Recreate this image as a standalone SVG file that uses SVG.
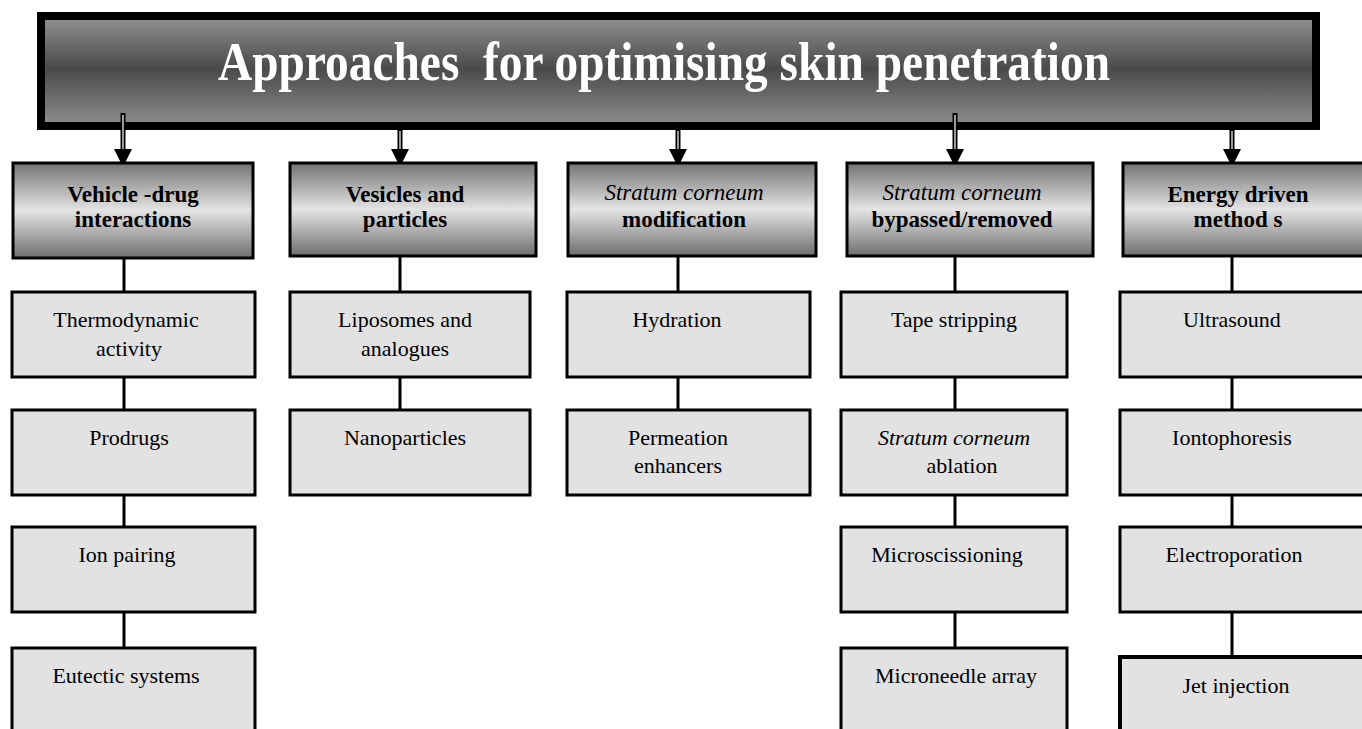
<svg xmlns="http://www.w3.org/2000/svg" width="1362" height="729" viewBox="0 0 1362 729">
<defs>
<linearGradient id="gTitle" x1="0" y1="0" x2="0" y2="1">
<stop offset="0" stop-color="#929292"/>
<stop offset="0.48" stop-color="#4a4a4a"/>
<stop offset="1" stop-color="#8e8e8e"/>
</linearGradient>
<linearGradient id="gHead" x1="0" y1="0" x2="0" y2="1">
<stop offset="0" stop-color="#737373"/>
<stop offset="0.5" stop-color="#e4e4e4"/>
<stop offset="1" stop-color="#6e6e6e"/>
</linearGradient>
<g id="arrowHead">
<polygon points="-9,0 9,0 0,18" fill="#000"/>
</g>
</defs>
<style>
.title{font-family:"Liberation Serif",serif;font-weight:bold;font-size:54px;fill:#fff}
.head{fill:url(#gHead);stroke:#000;stroke-width:3}
.sub{fill:#e2e2e2;stroke:#000;stroke-width:3}
.ht{font-family:"Liberation Serif",serif;font-weight:bold;font-size:23px;fill:#000;text-anchor:middle}
.it{font-style:italic}
.st{font-family:"Liberation Serif",serif;font-size:22px;fill:#000;text-anchor:middle}
.con{stroke:#000;stroke-width:3;fill:none}
.shaftO{stroke:#000;stroke-width:5;fill:none}
.shaftI{stroke:#fff;stroke-width:1.2;fill:none}
</style>

<g id="title">
<rect x="41" y="16" width="1275" height="110" fill="url(#gTitle)" stroke="#000" stroke-width="8"/>
<text class="title" x="664" y="80" text-anchor="middle" textLength="892" lengthAdjust="spacingAndGlyphs" xml:space="preserve">Approaches  for optimising skin penetration</text>
</g>

<g id="connectors">
<line class="shaftO" x1="123" y1="113" x2="123" y2="150"/><line class="shaftI" x1="123" y1="115" x2="123" y2="150"/>
<use href="#arrowHead" x="123" y="149"/>
<line class="shaftO" x1="400" y1="130" x2="400" y2="150"/><line class="shaftI" x1="400" y1="131" x2="400" y2="150"/>
<use href="#arrowHead" x="400" y="149"/>
<line class="shaftO" x1="678" y1="130" x2="678" y2="150"/><line class="shaftI" x1="678" y1="131" x2="678" y2="150"/>
<use href="#arrowHead" x="678" y="149"/>
<line class="shaftO" x1="955" y1="113" x2="955" y2="150"/><line class="shaftI" x1="955" y1="115" x2="955" y2="150"/>
<use href="#arrowHead" x="955" y="149"/>
<line class="shaftO" x1="1232" y1="130" x2="1232" y2="150"/><line class="shaftI" x1="1232" y1="131" x2="1232" y2="150"/>
<use href="#arrowHead" x="1232" y="149"/>
<line class="con" x1="124" y1="258" x2="124" y2="648"/>
<line class="con" x1="400" y1="256" x2="400" y2="410"/>
<line class="con" x1="678" y1="256" x2="678" y2="410"/>
<line class="con" x1="955" y1="256" x2="955" y2="648"/>
<line class="con" x1="1232" y1="256" x2="1232" y2="657"/>
</g>

<g id="h1"><rect class="head" x="13" y="163" width="240" height="95"/>
<text class="ht" x="133" y="202">Vehicle -drug</text><text class="ht" x="133" y="227">interactions</text></g>
<g id="h2"><rect class="head" x="290" y="163" width="246" height="93"/>
<text class="ht" x="405" y="202">Vesicles and</text><text class="ht" x="405" y="227">particles</text></g>
<g id="h3"><rect class="head" x="568" y="163" width="248" height="93"/>
<text class="ht" x="684" y="200"><tspan class="it" font-weight="normal">Stratum corneum</tspan></text><text class="ht" x="684" y="227">modification</text></g>
<g id="h4"><rect class="head" x="847" y="163" width="246" height="93"/>
<text class="ht" x="962" y="200"><tspan class="it" font-weight="normal">Stratum corneum</tspan></text><text class="ht" x="962" y="227">bypassed/removed</text></g>
<g id="h5"><rect class="head" x="1123" y="163" width="250" height="93"/>
<text class="ht" x="1238" y="202">Energy driven</text><text class="ht" x="1238" y="227">method s</text></g>

<g id="c1r1"><rect class="sub" x="12" y="292" width="243" height="85"/><text class="st" x="126" y="327">Thermodynamic</text><text class="st" x="129" y="356">activity</text></g>
<g id="c1r2"><rect class="sub" x="12" y="410" width="243" height="85"/><text class="st" x="129" y="445">Prodrugs</text></g>
<g id="c1r3"><rect class="sub" x="12" y="527" width="243" height="85"/><text class="st" x="127" y="562">Ion pairing</text></g>
<g id="c1r4"><rect class="sub" x="12" y="648" width="243" height="90"/><text class="st" x="126" y="683">Eutectic systems</text></g>

<g id="c2r1"><rect class="sub" x="290" y="292" width="240" height="85"/><text class="st" x="405" y="327">Liposomes and</text><text class="st" x="405" y="356">analogues</text></g>
<g id="c2r2"><rect class="sub" x="290" y="410" width="240" height="85"/><text class="st" x="405" y="445">Nanoparticles</text></g>

<g id="c3r1"><rect class="sub" x="567" y="292" width="243" height="85"/><text class="st" x="677" y="327">Hydration</text></g>
<g id="c3r2"><rect class="sub" x="567" y="410" width="243" height="85"/><text class="st" x="678" y="445">Permeation</text><text class="st" x="678" y="473">enhancers</text></g>

<g id="c4r1"><rect class="sub" x="841" y="292" width="226" height="85"/><text class="st" x="954" y="327">Tape stripping</text></g>
<g id="c4r2"><rect class="sub" x="841" y="410" width="226" height="85"/><text class="st" x="954" y="445"><tspan class="it">Stratum corneum</tspan></text><text class="st" x="962" y="473">ablation</text></g>
<g id="c4r3"><rect class="sub" x="841" y="527" width="226" height="85"/><text class="st" x="947" y="562">Microscissioning</text></g>
<g id="c4r4"><rect class="sub" x="841" y="648" width="226" height="90"/><text class="st" x="956" y="683">Microneedle array</text></g>

<g id="c5r1"><rect class="sub" x="1120" y="292" width="252" height="85"/><text class="st" x="1232" y="327">Ultrasound</text></g>
<g id="c5r2"><rect class="sub" x="1120" y="410" width="252" height="85"/><text class="st" x="1232" y="445">Iontophoresis</text></g>
<g id="c5r3"><rect class="sub" x="1120" y="527" width="252" height="85"/><text class="st" x="1234" y="562">Electroporation</text></g>
<g id="c5r4"><rect class="sub" x="1120" y="657" width="252" height="90" style="stroke-width:4"/><text class="st" x="1236" y="693">Jet injection</text></g>
</svg>
